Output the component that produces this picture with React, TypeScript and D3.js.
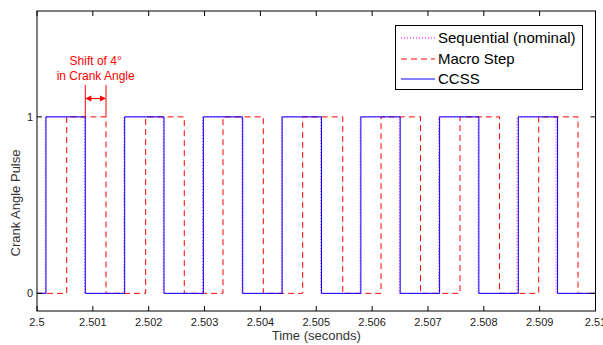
import { useEffect, useRef } from "react";
import * as d3 from "d3";

// edge times in ms after 2.5 s (alternating rise / fall)
const sequentialEdges = [
  0.148, 0.852, 1.557, 2.261, 2.966, 3.67, 4.378, 5.08, 5.786, 6.488, 7.193,
  7.896, 8.598, 9.295,
];
const macroStepEdges = [
  0.532, 1.236, 1.946, 2.637, 3.33, 4.052, 4.757, 5.474, 6.16, 6.867, 7.574,
  8.281, 8.983, 9.687,
];
const ccssEdges = [
  0.161, 0.865, 1.57, 2.274, 2.979, 3.683, 4.39, 5.094, 5.799, 6.503, 7.209,
  7.912, 8.618, 9.321,
];

const xTicks = [2.5, 2.501, 2.502, 2.503, 2.504, 2.505, 2.506, 2.507, 2.508, 2.509, 2.51];
const xTickLabels = ["2.5", "2.501", "2.502", "2.503", "2.504", "2.505", "2.506", "2.507", "2.508", "2.509", "2.51"];
const yTicks = [0, 1];

const seriesNames = ["Sequential (nominal)", "Macro Step", "CCSS"];

function App() {
  const svgRef = useRef<SVGSVGElement>(null);

  useEffect(() => {
    const left = 37;
    const right = 595.5;
    const top = 11;
    const bottom = 311;
    const font = "Liberation Sans, Arial, sans-serif";

    const svg = d3.select(svgRef.current);
    svg.selectAll("*").remove();

    const x = d3.scaleLinear().domain([2.5, 2.51]).range([left, right]);
    const y = d3.scaleLinear().domain([-0.1, 1.6]).range([bottom, top]);

    // turn edge list into step points
    const toPoints = (edges: number[]) => {
      const pts: [number, number][] = [[2.5, 0]];
      let level = 0;
      edges.forEach((e) => {
        const t = 2.5 + e / 1000;
        pts.push([t, level]);
        level = 1 - level;
        pts.push([t, level]);
      });
      pts.push([2.51, level]);
      return pts;
    };

    const line = d3
      .line<[number, number]>()
      .x((d) => x(d[0]))
      .y((d) => y(d[1]));

    const series = [
      { edges: sequentialEdges, color: "#ff00ff", dash: "1,2" },
      { edges: macroStepEdges, color: "#ff0000", dash: "6,4" },
      { edges: ccssEdges, color: "#0000ff", dash: null },
    ];

    const plot = svg.append("g");
    series.forEach((s) => {
      plot
        .append("path")
        .attr("d", line(toPoints(s.edges)))
        .attr("fill", "none")
        .attr("stroke", s.color)
        .attr("stroke-width", 1)
        .attr("stroke-dasharray", s.dash);
    });

    // axes box
    svg
      .append("rect")
      .attr("x", left)
      .attr("y", top)
      .attr("width", right - left)
      .attr("height", bottom - top)
      .attr("fill", "none")
      .attr("stroke", "#000")
      .attr("stroke-width", 1);

    // x ticks (bottom and top, inward)
    const xt = svg.append("g");
    xTicks.forEach((t, i) => {
      xt.append("line")
        .attr("x1", x(t)).attr("x2", x(t))
        .attr("y1", bottom).attr("y2", bottom - 5)
        .attr("stroke", "#000");
      xt.append("line")
        .attr("x1", x(t)).attr("x2", x(t))
        .attr("y1", top).attr("y2", top + 5)
        .attr("stroke", "#000");
      xt.append("text")
        .attr("x", x(t))
        .attr("y", 326)
        .attr("text-anchor", "middle")
        .style("font-family", font)
        .style("font-size", "11px")
        .attr("fill", "#222")
        .text(xTickLabels[i]);
    });

    // y ticks
    yTicks.forEach((t) => {
      svg.append("line")
        .attr("x1", left).attr("x2", left + 5)
        .attr("y1", y(t)).attr("y2", y(t))
        .attr("stroke", "#000");
      svg.append("line")
        .attr("x1", right).attr("x2", right - 5)
        .attr("y1", y(t)).attr("y2", y(t))
        .attr("stroke", "#000");
      svg.append("text")
        .attr("x", 33)
        .attr("y", y(t) + 4)
        .attr("text-anchor", "end")
        .style("font-family", font)
        .style("font-size", "11px")
        .attr("fill", "#222")
        .text(t);
    });

    // axis labels
    svg
      .append("text")
      .attr("x", (left + right) / 2)
      .attr("y", 340)
      .attr("text-anchor", "middle")
      .style("font-family", font)
      .style("font-size", "13px")
      .attr("fill", "#333")
      .text("Time (seconds)");

    svg
      .append("text")
      .attr("transform", `translate(20, 203) rotate(-90)`)
      .attr("text-anchor", "middle")
      .style("font-family", font)
      .style("font-size", "13px")
      .attr("fill", "#333")
      .text("Crank Angle Pulse");

    // shift annotation between first CCSS fall and first Macro Step fall
    const x1 = x(2.5 + ccssEdges[1] / 1000);
    const x2 = x(2.5 + macroStepEdges[1] / 1000);
    const ann = svg.append("g");
    [x1, x2].forEach((xx) => {
      ann.append("line")
        .attr("x1", xx).attr("x2", xx)
        .attr("y1", 85).attr("y2", y(1))
        .attr("stroke", "#ff0000")
        .attr("stroke-width", 1);
    });
    const ay = 98.5;
    ann.append("line")
      .attr("x1", x1 + 4).attr("x2", x2 - 4)
      .attr("y1", ay).attr("y2", ay)
      .attr("stroke", "#ff0000")
      .attr("stroke-width", 1.2);
    ann.append("path")
      .attr("d", `M${x1},${ay} L${x1 + 6},${ay - 3} L${x1 + 6},${ay + 3} Z`)
      .attr("fill", "#ff0000");
    ann.append("path")
      .attr("d", `M${x2},${ay} L${x2 - 6},${ay - 3} L${x2 - 6},${ay + 3} Z`)
      .attr("fill", "#ff0000");
    ann.append("text")
      .attr("x", (x1 + x2) / 2)
      .attr("y", 65)
      .attr("text-anchor", "middle")
      .style("font-family", font)
      .style("font-size", "12px")
      .attr("fill", "#ff0000")
      .text("Shift of 4°");
    ann.append("text")
      .attr("x", (x1 + x2) / 2)
      .attr("y", 80)
      .attr("text-anchor", "middle")
      .style("font-family", font)
      .style("font-size", "12px")
      .attr("fill", "#ff0000")
      .text("in Crank Angle");

    // legend
    const lg = svg.append("g");
    lg.append("rect")
      .attr("x", 395.5)
      .attr("y", 25.5)
      .attr("width", 187)
      .attr("height", 64)
      .attr("fill", "#fff")
      .attr("stroke", "#000");
    const rowY = [38, 59, 79];
    series.forEach((s, i) => {
      lg.append("line")
        .attr("x1", 401).attr("x2", 435)
        .attr("y1", rowY[i]).attr("y2", rowY[i])
        .attr("stroke", s.color)
        .attr("stroke-dasharray", s.dash);
      lg.append("text")
        .attr("x", 438)
        .attr("y", rowY[i] + 5)
        .style("font-family", font)
        .style("font-size", "15px")
        .attr("fill", "#000")
        .text(seriesNames[i]);
    });
  }, []);

  return (
    <svg
      ref={svgRef}
      width={603}
      height={345}
      style={{ position: "absolute", left: 0, top: 0, background: "#fff" }}
    ></svg>
  );
}

export default App;
